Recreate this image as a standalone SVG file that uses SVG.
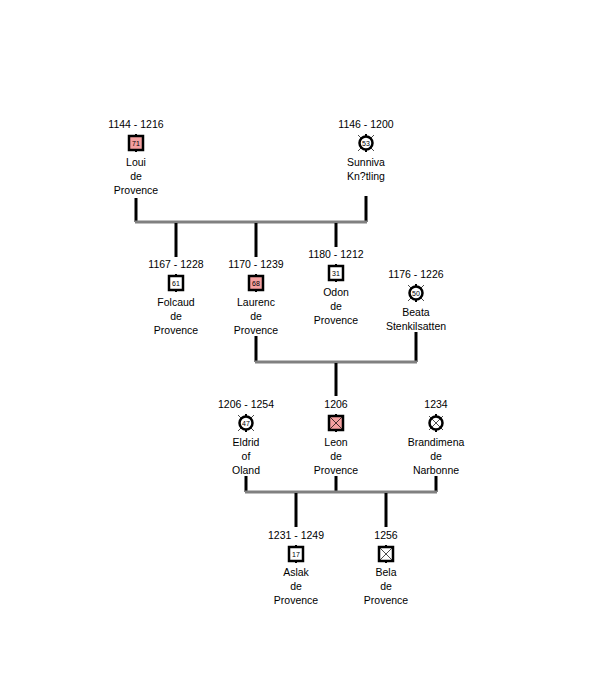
<svg xmlns="http://www.w3.org/2000/svg" width="604" height="679" viewBox="0 0 604 679">
<style>
text{font-family:"Liberation Sans",Arial,sans-serif;font-size:10.5px;fill:#000;text-anchor:middle}
.n{font-size:7px}
.v{stroke:#000;stroke-width:3}
.h{stroke:#808080;stroke-width:3}
.sq{stroke:#000;stroke-width:2.5;fill:#fff}
.pk{fill:#f4a0a0}
.x{stroke:#000;stroke-width:0.7}
.st{stroke:#000;stroke-width:2}
</style>
<rect width="604" height="679" fill="#fff"/>
<g id="connectors">
<line class="v" x1="136" y1="198" x2="136" y2="222"/>
<line class="v" x1="366" y1="196" x2="366" y2="222"/>
<line class="h" x1="135" y1="222" x2="367" y2="222"/>
<line class="v" x1="176" y1="223" x2="176" y2="257"/>
<line class="v" x1="256" y1="223" x2="256" y2="257"/>
<line class="v" x1="336" y1="223" x2="336" y2="247"/>
<line class="v" x1="256" y1="336" x2="256" y2="362"/>
<line class="v" x1="416" y1="332" x2="416" y2="362"/>
<line class="h" x1="255" y1="362" x2="417" y2="362"/>
<line class="v" x1="336" y1="363" x2="336" y2="396"/>
<line class="v" x1="246" y1="476" x2="246" y2="492"/>
<line class="v" x1="336" y1="476" x2="336" y2="492"/>
<line class="v" x1="436" y1="476" x2="436" y2="492"/>
<line class="h" x1="245" y1="492" x2="437" y2="492"/>
<line class="v" x1="296" y1="493" x2="296" y2="527"/>
<line class="v" x1="386" y1="493" x2="386" y2="527"/>
</g>
<g id="loui"><text x="136" y="128">1144 - 1216</text>
<line class="st" x1="136" y1="134" x2="136" y2="152"/>
<rect class="sq pk" x="129" y="136" width="14" height="14"/><text class="n" x="136" y="146">71</text>
<text x="136" y="166">Loui</text><text x="136" y="180">de</text><text x="136" y="194">Provence</text></g>
<g id="sunniva"><text x="366" y="128">1146 - 1200</text>
<line class="st" x1="366" y1="134" x2="366" y2="152"/><line class="x" x1="358" y1="135" x2="374" y2="151"/><line class="x" x1="374" y1="135" x2="358" y2="151"/>
<circle class="sq" cx="366" cy="143" r="6.5"/><text class="n" x="366" y="146">53</text>
<text x="366" y="166">Sunniva</text><text x="366" y="180">Kn?tling</text></g>
<g id="folcaud"><text x="176" y="268">1167 - 1228</text>
<line class="st" x1="176" y1="274" x2="176" y2="292"/>
<rect class="sq" x="169" y="276" width="14" height="14"/><text class="n" x="176" y="286">61</text>
<text x="176" y="306">Folcaud</text><text x="176" y="320">de</text><text x="176" y="334">Provence</text></g>
<g id="laurenc"><text x="256" y="268">1170 - 1239</text>
<line class="st" x1="256" y1="274" x2="256" y2="292"/>
<rect class="sq pk" x="249" y="276" width="14" height="14"/><text class="n" x="256" y="286">68</text>
<text x="256" y="306">Laurenc</text><text x="256" y="320">de</text><text x="256" y="334">Provence</text></g>
<g id="odon"><text x="336" y="258">1180 - 1212</text>
<line class="st" x1="336" y1="264" x2="336" y2="282"/>
<rect class="sq" x="329" y="266" width="14" height="14"/><text class="n" x="336" y="276">31</text>
<text x="336" y="296">Odon</text><text x="336" y="310">de</text><text x="336" y="324">Provence</text></g>
<g id="beata"><text x="416" y="278">1176 - 1226</text>
<line class="st" x1="416" y1="284" x2="416" y2="302"/><line class="x" x1="408" y1="285" x2="424" y2="301"/><line class="x" x1="424" y1="285" x2="408" y2="301"/>
<circle class="sq" cx="416" cy="293" r="6.5"/><text class="n" x="416" y="296">50</text>
<text x="416" y="316">Beata</text><text x="416" y="330">Stenkilsatten</text></g>
<g id="eldrid"><text x="246" y="408">1206 - 1254</text>
<line class="st" x1="246" y1="414" x2="246" y2="432"/><line class="x" x1="238" y1="415" x2="254" y2="431"/><line class="x" x1="254" y1="415" x2="238" y2="431"/>
<circle class="sq" cx="246" cy="423" r="6.5"/><text class="n" x="246" y="426">47</text>
<text x="246" y="446">Eldrid</text><text x="246" y="460">of</text><text x="246" y="474">Oland</text></g>
<g id="leon"><text x="336" y="408">1206</text>
<line class="st" x1="336" y1="414" x2="336" y2="432"/>
<rect class="sq pk" x="329" y="416" width="14" height="14"/><line class="x" x1="329" y1="416" x2="343" y2="430"/><line class="x" x1="343" y1="416" x2="329" y2="430"/>
<text x="336" y="446">Leon</text><text x="336" y="460">de</text><text x="336" y="474">Provence</text></g>
<g id="brandimena"><text x="436" y="408">1234</text>
<line class="st" x1="436" y1="414" x2="436" y2="432"/>
<circle class="sq" cx="436" cy="423" r="6.5"/><line class="x" x1="429" y1="416" x2="443" y2="430"/><line class="x" x1="443" y1="416" x2="429" y2="430"/>
<text x="436" y="446">Brandimena</text><text x="436" y="460">de</text><text x="436" y="474">Narbonne</text></g>
<g id="aslak"><text x="296" y="539">1231 - 1249</text>
<line class="st" x1="296" y1="545" x2="296" y2="563"/>
<rect class="sq" x="289" y="547" width="14" height="14"/><text class="n" x="296" y="557">17</text>
<text x="296" y="576">Aslak</text><text x="296" y="590">de</text><text x="296" y="604">Provence</text></g>
<g id="bela"><text x="386" y="539">1256</text>
<line class="st" x1="386" y1="545" x2="386" y2="563"/>
<rect class="sq" x="379" y="547" width="14" height="14"/><line class="x" x1="379" y1="547" x2="393" y2="561"/><line class="x" x1="393" y1="547" x2="379" y2="561"/>
<text x="386" y="576">Bela</text><text x="386" y="590">de</text><text x="386" y="604">Provence</text></g>
</svg>
